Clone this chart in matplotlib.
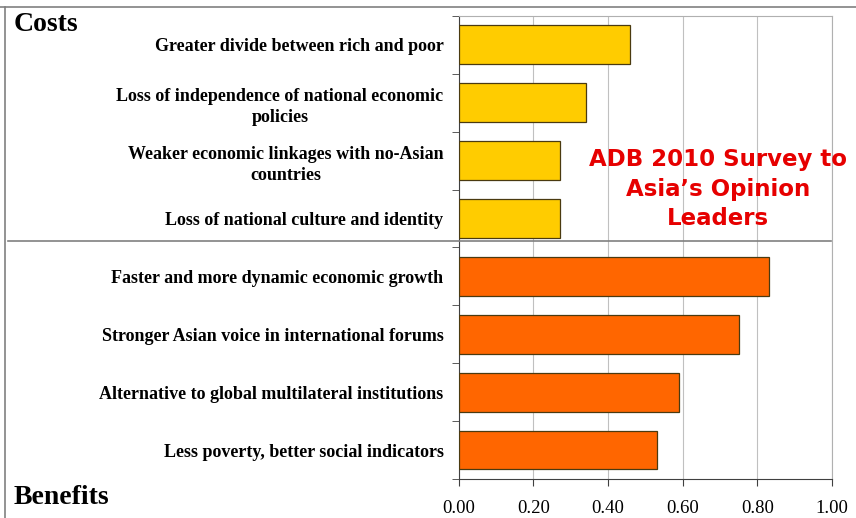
import numpy as np
import matplotlib.pyplot as plt
from matplotlib.lines import Line2D

# data, top to bottom
labels = ['Greater divide between rich and poor',
          'Loss of independence of national economic\npolicies',
          'Weaker economic linkages with no-Asian\ncountries',
          'Loss of national culture and identity',
          'Faster and more dynamic economic growth',
          'Stronger Asian voice in international forums',
          'Alternative to global multilateral institutions',
          'Less poverty, better social indicators']
values = [0.46, 0.34, 0.27, 0.27, 0.83, 0.75, 0.59, 0.53]
groups = ['cost'] * 4 + ['benefit'] * 4
colours = {'cost': '#ffcc00', 'benefit': '#ff6600'}

serif = ['Liberation Serif', 'DejaVu Serif']

fig = plt.figure(figsize=(8.56, 5.18), dpi=100)
ax = fig.add_axes([0.536, 0.0753, 0.436, 0.894])

y = np.arange(len(values))
ax.barh(y, values, height=0.67, color=[colours[g] for g in groups],
        edgecolor='#4a3a10', linewidth=0.9, zorder=3)
ax.set_ylim(len(values) - 0.5, -0.5)
ax.set_xlim(0, 1.0)

# grid + spines
ax.set_xticks(np.arange(0, 1.01, 0.2))
ax.set_xticklabels(['%.2f' % v for v in np.arange(0, 1.01, 0.2)],
                   fontfamily=serif, fontsize=13.5)
ax.grid(axis='x', color='#c0c0c0', linewidth=0.8, zorder=0)
for s in ['top', 'right']:
    ax.spines[s].set_color('#b0b0b0')
for s in ['left', 'bottom']:
    ax.spines[s].set_color('#404040')
ax.tick_params(axis='x', length=5, direction='out', color='#404040', pad=10)

ax.set_yticks(y)
ax.set_yticklabels(labels, fontfamily=serif, fontsize=13, fontweight='bold',
                   multialignment='center', linespacing=1.3)
ax.set_yticks(np.arange(-0.5, len(values) + 0.5, 1), minor=True)
ax.tick_params(axis='y', which='major', length=0, pad=11)
ax.tick_params(axis='y', which='minor', length=5, direction='out', color='#404040')

# red annotation
ax.text(0.695, 0.626, "ADB 2010 Survey to\nAsia\u2019s Opinion\nLeaders",
        transform=ax.transAxes, ha='center', va='center', color='#e60000',
        fontsize=16.5, fontweight='bold', fontfamily='DejaVu Sans',
        linespacing=1.35)

# section headings and frame lines
fig.text(0.016, 0.952, 'Costs', fontfamily=serif, fontsize=20, fontweight='bold',
         va='center')
fig.text(0.016, 0.04, 'Benefits', fontfamily=serif, fontsize=20, fontweight='bold',
         va='center')
fig.add_artist(Line2D([0.009, 0.971], [0.535, 0.535], color='#808080', lw=1.2))
fig.add_artist(Line2D([0, 1], [0.986, 0.986], color='#808080', lw=1.2))
fig.add_artist(Line2D([0.006, 0.006], [0, 0.986], color='#808080', lw=1.2))

fig.savefig('out.png', dpi=100)
